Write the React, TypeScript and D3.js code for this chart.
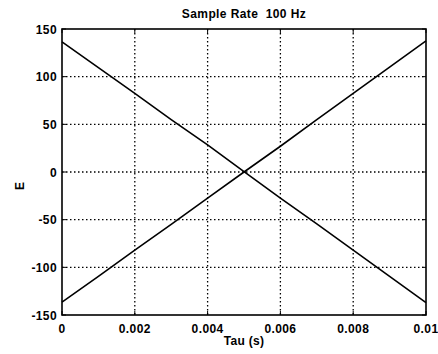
import React from "react";
import * as d3 from "d3";

const tau = [0, 0.001, 0.002, 0.003, 0.004, 0.005, 0.006, 0.007, 0.008, 0.009, 0.01];
const seriesDown = [136.5, 109.5, 82.5, 55, 28.5, 0.5, -27.5, -54.5, -82, -109.5, -137];
const seriesUp = [-136.5, -109.5, -82, -55, -27.5, 0, 27, 55, 82.5, 110, 137.5];
const xTicks = [0, 0.002, 0.004, 0.006, 0.008, 0.01];
const xTickLabels = ["0", "0.002", "0.004", "0.006", "0.008", "0.01"];
const yTicks = [-150, -100, -50, 0, 50, 100, 150];
const title = "Sample Rate\u00a0\u00a0100 Hz";
const xLabel = "Tau (s)";
const yLabel = "E";

const W = 438, H = 354;
const L = 62, R = 426, T = 29, B = 315;

export default function App() {
  const x = d3.scaleLinear().domain([0, 0.01]).range([L, R]);
  const y = d3.scaleLinear().domain([-150, 150]).range([B, T]);
  const line = d3.line<number>().x((_, i) => x(tau[i])).y((d) => y(d));
  const font = "'Liberation Sans', Arial, Helvetica, sans-serif";
  return (
    <svg width={W} height={H} style={{ position: "absolute", left: 0, top: 0, background: "#fff" }}
      fontFamily={font}>
      <rect x={0} y={0} width={W} height={H} fill="#fff" />
      {xTicks.slice(1, -1).map((t) => (
        <line key={"gx" + t} x1={x(t)} x2={x(t)} y1={T} y2={B} stroke="#000" strokeWidth={1.3} strokeDasharray="1.5,2.5" />
      ))}
      {yTicks.slice(1, -1).map((t) => (
        <line key={"gy" + t} x1={L} x2={R} y1={y(t)} y2={y(t)} stroke="#000" strokeWidth={1.3} strokeDasharray="1.5,2.5" />
      ))}
      {yTicks.map((t) => (
        <g key={"ty" + t}>
          <line x1={L} x2={L + 4} y1={y(t)} y2={y(t)} stroke="#000" strokeWidth={1} />
          <line x1={R} x2={R - 4} y1={y(t)} y2={y(t)} stroke="#000" strokeWidth={1} />
          <text x={L - 5} y={y(t) + 4.5} textAnchor="end" fontSize={12} fontWeight="bold" letterSpacing={0.4}>{t}</text>
        </g>
      ))}
      {xTicks.map((t, i) => (
        <g key={"tx" + t}>
          <line x1={x(t)} x2={x(t)} y1={B} y2={B - 4} stroke="#000" strokeWidth={1} />
          <line x1={x(t)} x2={x(t)} y1={T} y2={T + 4} stroke="#000" strokeWidth={1} />
          <text x={x(t)} y={333} textAnchor="middle" fontSize={12} fontWeight="bold" letterSpacing={0.4}>{xTickLabels[i]}</text>
        </g>
      ))}
      <path d={line(seriesDown) || ""} fill="none" stroke="#000" strokeWidth={1.6} />
      <path d={line(seriesUp) || ""} fill="none" stroke="#000" strokeWidth={1.6} />
      <rect x={L} y={T} width={R - L} height={B - T} fill="none" stroke="#000" strokeWidth={1.6} />
      <text x={(L + R) / 2} y={18} textAnchor="middle" fontSize={12} fontWeight="bold" letterSpacing={0.4}>{title}</text>
      <text x={(L + R) / 2} y={345} textAnchor="middle" fontSize={12} fontWeight="bold" letterSpacing={0.3}>{xLabel}</text>
      <text transform={`translate(24,${(T + B) / 2 + 14}) rotate(-90)`} textAnchor="middle" fontSize={12} fontWeight="bold">{yLabel}</text>
    </svg>
  );
}
